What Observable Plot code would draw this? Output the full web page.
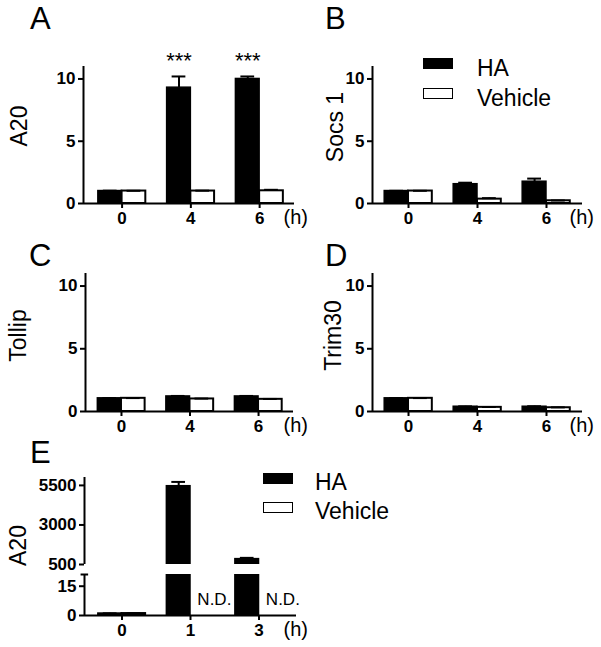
<!DOCTYPE html>
<html>
<head>
<meta charset="utf-8">
<script src="https://cdn.jsdelivr.net/npm/d3@7"></script>
<script src="https://cdn.jsdelivr.net/npm/@observablehq/plot@0.6"></script>
<style>
  body { margin: 0; background: #fff; }
  #fig { position: relative; width: 601px; height: 647px; overflow: hidden; background: #fff;
         font-family: "Liberation Sans", Arial, Helvetica, sans-serif; color: #000; }
  #fig svg { position: absolute; overflow: visible; }
  .letter { position: absolute; font-size: 31px; line-height: 1; white-space: nowrap; }
  .leg { position: absolute; font-size: 23px; line-height: 1; white-space: nowrap; }
  .sw { position: absolute; box-sizing: border-box; width: 30px; height: 11px; border: 1.5px solid #000; }
</style>
</head>
<body>
<div id="fig"></div>
<script>
// ---------------- data ----------------
const timesABCD = ["0", "4", "6"];
const timesE = ["0", "1", "3"];
const seriesNames = ["HA", "Vehicle"];

// Panel A – A20
const a20HA = [1.0, 9.3, 10.0];
const a20HAErr = [0.03, 0.9, 0.2];
const a20Veh = [1.0, 1.0, 1.02];
const a20VehErr = [0.02, 0.03, 0.08];
const a20Stars = ["", "***", "***"];

// Panel B – Socs 1
const socs1HA = [1.0, 1.55, 1.75];
const socs1HAErr = [0.02, 0.12, 0.25];
const socs1Veh = [1.0, 0.35, 0.22];
const socs1VehErr = [0.02, 0.08, 0.02];

// Panel C – Tollip
const tollipHA = [1.05, 1.2, 1.2];
const tollipHAErr = [0.02, 0.04, 0.04];
const tollipVeh = [1.05, 1.0, 0.97];
const tollipVehErr = [0.02, 0.03, 0.03];

// Panel D – Trim30
const trim30HA = [1.05, 0.38, 0.38];
const trim30HAErr = [0.02, 0.03, 0.04];
const trim30Veh = [1.05, 0.33, 0.3];
const trim30VehErr = [0.02, 0.03, 0.03];

// Panel E – A20 (broken axis), Vehicle not detected at 1 h and 3 h
const a20eHA = [1.0, 5450, 840];
const a20eHAErr = [0.1, 270, 80];
const a20eVeh = [1.0, null, null];
const a20eVehErr = [0.1, 0, 0];

const ticksSmall = [0, 5, 10];
const ticksUpperE = [500, 3000, 5500];
const ticksLowerE = [0, 15];

// ---------------- helpers ----------------
const W = 0.345;
function rowsFrom(ha, haErr, veh, vehErr) {
  return ha.map((v, i) => ({i, s: seriesNames[0], value: v, err: haErr[i]}))
    .concat(veh.map((v, i) => ({i, s: seriesNames[1], value: v, err: vehErr[i]})));
}
const bx1 = d => d.s === "HA" ? d.i - W : d.i;
const bx2 = d => d.s === "HA" ? d.i : d.i + W;
const bxc = d => d.s === "HA" ? d.i - W / 2 : d.i + W / 2;

const fig = document.getElementById("fig");

function panel(o) {
  const rows = o.rows.filter(d => d.value != null);
  const errRows = rows.filter(d => d.err > 0);
  const marks = [
    Plot.rectY(rows.filter(d => d.s === "HA"), {x1: bx1, x2: bx2, y1: 0, y2: "value", fill: "black", stroke: "black", strokeWidth: 1.5, clip: true}),
    Plot.rectY(rows.filter(d => d.s === "Vehicle"), {x1: bx1, x2: bx2, y1: 0, y2: "value", fill: "white", stroke: "black", strokeWidth: 2, clip: true}),
    Plot.ruleX(errRows, {x: bxc, y1: "value", y2: d => d.value + d.err, stroke: "black", strokeWidth: 2, clip: true}),
    Plot.ruleY(errRows, {y: d => d.value + d.err, x1: d => bxc(d) - 0.1, x2: d => bxc(d) + 0.1, stroke: "black", strokeWidth: 2, clip: true}),
    Plot.ruleX([o.xDomain[0]], {stroke: "black", strokeWidth: 2}),
    Plot.axisY({ticks: o.yTicks, tickFormat: "d", tickSize: 5, tickPadding: 3, strokeWidth: 2, label: null, fontSize: 17})
  ];
  if (o.xAxis) {
    marks.push(
      Plot.ruleY([o.yDomain[0]], {stroke: "black", strokeWidth: 2}),
      Plot.axisX({ticks: [0, 1, 2], tickFormat: i => o.xLabels[i], tickSize: 5, tickPadding: 3, strokeWidth: 2, label: null, fontSize: 17}),
      Plot.text(["(h)"], {frameAnchor: "bottom-right", textAnchor: "start", lineAnchor: "middle", dx: o.hDx, dy: 14, fontSize: 20, fontWeight: "normal"})
    );
  }
  if (o.yLabel) {
    marks.push(Plot.text([o.yLabel], {frameAnchor: "left", textAnchor: "middle", lineAnchor: "middle", rotate: -90, dx: o.yLabelDx, dy: o.yLabelDy || 0, fontSize: 23, fontWeight: "normal"}));
  }
  if (o.stars) {
    const starRows = o.stars.map((t, i) => ({i, s: "HA", t})).filter(d => d.t);
    marks.push(Plot.text(starRows, {x: bxc, frameAnchor: "top", lineAnchor: "middle", dy: -5.5, text: "t", fontSize: 22, fontWeight: "normal"}));
  }
  if (o.nd) {
    const ndRows = o.rows.filter(d => d.s === "Vehicle" && d.value == null);
    marks.push(Plot.text(ndRows, {x: d => d.i + 0.1, frameAnchor: "bottom", lineAnchor: "middle", dy: -16, textAnchor: "start", text: () => "N.D.", fontSize: 17, fontWeight: "normal"}));
  }
  if (o.capTop) {
    marks.push(Plot.ruleY([o.yDomain[1]], {x1: o.xDomain[0] - 0.05, x2: o.xDomain[0] + 0.06, stroke: "black", strokeWidth: 2}));
  }
  const svg = Plot.plot({
    width: o.width, height: o.height,
    marginLeft: o.mL, marginRight: o.mR, marginTop: o.mT, marginBottom: o.mB,
    x: {type: "linear", domain: o.xDomain, axis: null},
    y: {type: "linear", domain: o.yDomain, axis: null},
    style: {fontFamily: "'Liberation Sans', Arial, Helvetica, sans-serif", fontWeight: "bold", color: "black", background: "transparent", overflow: "visible"},
    marks
  });
  svg.style.left = o.left + "px";
  svg.style.top = o.top + "px";
  fig.appendChild(svg);
}

// A
panel({left: 0, top: 0, width: 300, height: 235, mL: 83, mR: 6, mT: 66, mB: 32,
  xDomain: [-0.561, 2.507], yDomain: [0, 11], yTicks: ticksSmall, xAxis: true, xLabels: timesABCD, hDx: -11,
  rows: rowsFrom(a20HA, a20HAErr, a20Veh, a20VehErr), yLabel: "A20", yLabelDx: -64, yLabelDy: -9, stars: a20Stars});
// B
panel({left: 300, top: 0, width: 301, height: 235, mL: 72, mR: 19, mT: 66, mB: 32,
  xDomain: [-0.522, 2.522], yDomain: [0, 11], yTicks: ticksSmall, xAxis: true, xLabels: timesABCD, hDx: -13,
  rows: rowsFrom(socs1HA, socs1HAErr, socs1Veh, socs1VehErr), yLabel: "Socs 1", yLabelDx: -37, yLabelDy: -8});
// C
panel({left: 0, top: 230, width: 300, height: 210, mL: 85, mR: 7, mT: 43, mB: 29,
  xDomain: [-0.525, 2.51], yDomain: [0, 11], yTicks: ticksSmall, xAxis: true, xLabels: timesABCD, hDx: -10,
  rows: rowsFrom(tollipHA, tollipHAErr, tollipVeh, tollipVehErr), yLabel: "Tollip", yLabelDx: -67, yLabelDy: -7});
// D
panel({left: 300, top: 230, width: 301, height: 210, mL: 72, mR: 19, mT: 43, mB: 29,
  xDomain: [-0.522, 2.522], yDomain: [0, 11], yTicks: ticksSmall, xAxis: true, xLabels: timesABCD, hDx: -13,
  rows: rowsFrom(trim30HA, trim30HAErr, trim30Veh, trim30VehErr), yLabel: "Trim30", yLabelDx: -39, yLabelDy: -7});
// E upper segment
const rowsE = rowsFrom(a20eHA, a20eHAErr, a20eVeh, a20eVehErr);
panel({left: 0, top: 430, width: 300, height: 136, mL: 84, mR: 4, mT: 47, mB: 2,
  xDomain: [-0.547, 2.547], yDomain: [500, 6000], yTicks: ticksUpperE, xAxis: false,
  rows: rowsE, yLabel: "A20", yLabelDx: -66, yLabelDy: 24.5});
// E lower segment
panel({left: 0, top: 566, width: 300, height: 81, mL: 84, mR: 4, mT: 8, mB: 32,
  xDomain: [-0.547, 2.547], yDomain: [0, 21], yTicks: ticksLowerE, xAxis: true, xLabels: timesE, hDx: -13,
  rows: rowsE, nd: true, capTop: true});

// panel letters
[["A", 30, 3], ["B", 325, 3], ["C", 29, 240], ["D", 325, 240], ["E", 30, 437]].forEach(([t, x, y]) => {
  const d = document.createElement("div");
  d.className = "letter"; d.textContent = t;
  d.style.left = x + "px"; d.style.top = y + "px";
  fig.appendChild(d);
});

// legends
function legend(swLeft, swTop, textLeft, textTop, gap) {
  seriesNames.forEach((name, k) => {
    const sw = document.createElement("div");
    sw.className = "sw";
    sw.style.left = swLeft + "px"; sw.style.top = (swTop + k * gap) + "px";
    sw.style.background = name === "HA" ? "#000" : "#fff";
    fig.appendChild(sw);
    const t = document.createElement("div");
    t.className = "leg"; t.textContent = name;
    t.style.left = textLeft + "px"; t.style.top = (textTop + k * gap) + "px";
    fig.appendChild(t);
  });
}
legend(423, 58, 477, 56.5, 30);
legend(263, 473, 315, 470.5, 29);
</script>
</body>
</html>
